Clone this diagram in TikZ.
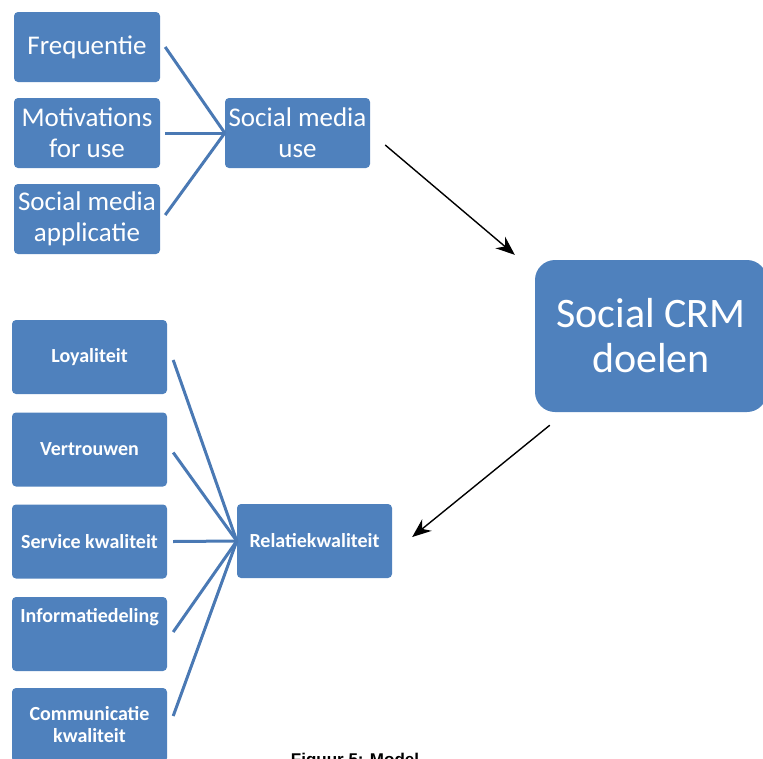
\documentclass[tikz,border=0pt]{standalone}
\usepackage{fontspec}
\setmainfont{Carlito}
\newfontfamily\capfont{Liberation Sans}
\usetikzlibrary{calc,arrows.meta}
\definecolor{boxblue}{HTML}{4F81BD}
\definecolor{linkblue}{HTML}{4A79B4}
\tikzset{
  smallbox/.style={fill=boxblue, rounded corners=4pt, minimum width=146pt, minimum height=70pt,
    text=white, align=center, inner sep=0pt, font=\fontsize{27}{31}\selectfont},
  factorfont/.style={font=\bfseries\fontsize{20}{22}\selectfont},
  factorbox/.style={fill=boxblue, rounded corners=4pt, minimum width=155pt, minimum height=74pt,
    text=white, align=center, inner sep=0pt, factorfont},
  bigbox/.style={fill=boxblue, rounded corners=20pt, minimum width=232pt, minimum height=152pt,
    text=white, align=center, inner sep=0pt, font=\fontsize{42}{45}\selectfont},
  link/.style={draw=linkblue, line width=3pt},
  flow/.style={draw=black, line width=1.4pt, -{Stealth[length=19pt,width=15pt]}}
}
\begin{document}
\begin{tikzpicture}[x=1pt,y=-1pt]
\useasboundingbox (0,0) rectangle (763,758);

% social media use and its three components
\node[smallbox] (freq) at (87,47) {Frequentie};
\node[smallbox] (motiv) at (87,133) {Motivations\\for use};
\node[smallbox] (appl) at (87,219) {Social media\\applicatie};
\node[smallbox, minimum width=145pt] (smu) at (297.5,133) {Social media\\use};

\draw[link] ($(freq.east)+(5,0)$) -- (smu.west);
\draw[link] ($(motiv.east)+(5,0)$) -- (smu.west);
\draw[link] ($(appl.east)+(5,-4)$) -- (smu.west);

% goals
\node[bigbox] (crm) at (651,336) {Social CRM\\doelen};

% relationship quality and its five components
\node[factorbox] (loy) at (89.5,357) {Loyaliteit};
\node[factorbox] (vert) at (89.5,449.5) {Vertrouwen};
\node[factorbox] (serv) at (89.5,541.5) {Service kwaliteit};
\node[factorbox] (info) at (89.5,634) {};
\node[text=white, factorfont, inner sep=0pt] (infolbl) at ($(info.north)+(0,20)$) {Informatiedeling};
\node[factorbox] (comm) at (89.5,725) {Communicatie\\kwaliteit};
\node[factorbox] (rk) at (314.5,541) {Relatiekwaliteit};

\foreach \n/\dy in {loy/3, vert/3, serv/0, info/-2, comm/-9}
  \draw[link] ($(\n.east)+(6,\dy)$) -- (rk.west);

% causal arrows
\draw[flow] ($(smu.east)+(15,12)$) -- ($(crm.north west)+(-20,-5)$);
\draw[flow] ($(crm.south west)+(15,13)$) -- ($(rk.east)+(20,-4)$);

% caption
\node[font=\capfont\bfseries\fontsize{17}{20}\selectfont, anchor=base] (cap) at (355,765) {Figuur 5: Model};
\end{tikzpicture}
\end{document}
